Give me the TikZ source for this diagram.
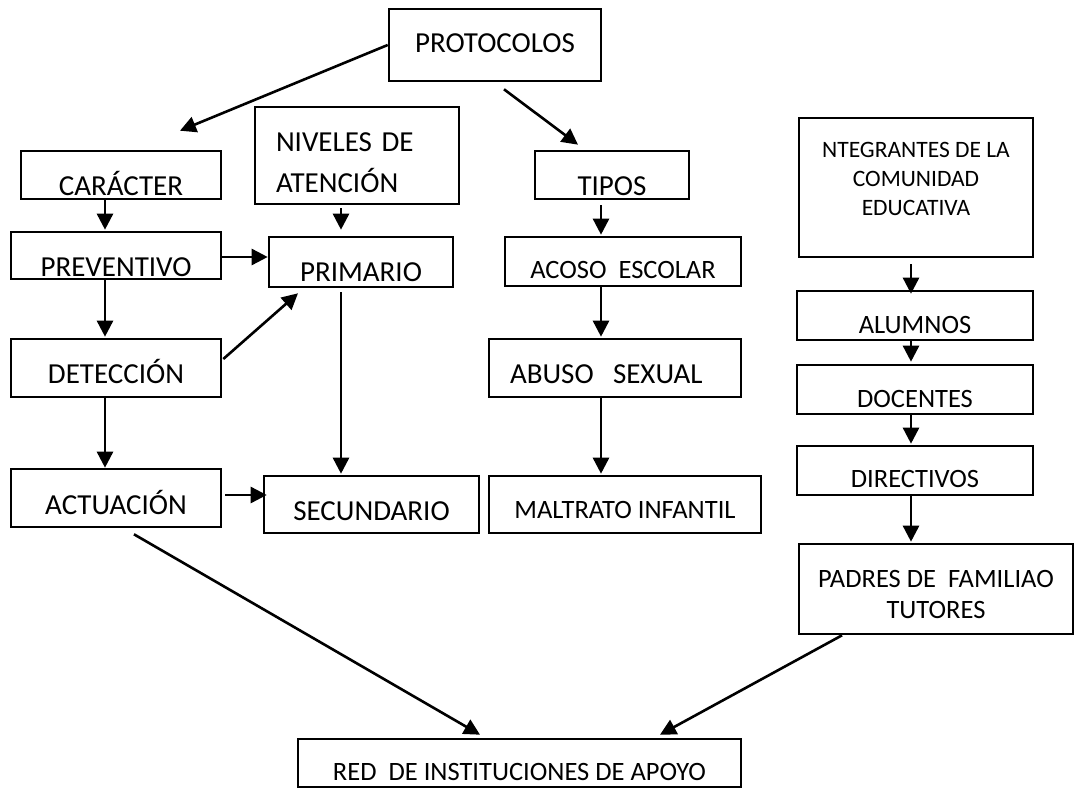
\documentclass[tikz,border=0pt]{standalone}
\usepackage{fontspec}
\setmainfont{Carlito}
\usetikzlibrary{arrows.meta,calc}
\begin{document}
\begin{tikzpicture}[x=1pt, y=-1pt, >={Triangle[length=16pt,width=16pt]},
  caja/.style={draw, line width=2.6pt, inner sep=0pt, text depth=0pt},
  grande/.style={font=\fontsize{29}{41}\selectfont},
  media/.style={font=\fontsize{26.5}{31}\selectfont},
  chica/.style={font=\fontsize{23.5}{29}\selectfont},
  flecha/.style={->, line width=2.6pt}]
  \path[use as bounding box, fill=white] (0,0) rectangle (1075,789);
  % columna izquierda
  \node[caja,grande,minimum width=212pt,minimum height=72pt,text height=16pt] (proto) at (495,45) {PROTOCOLOS};
  \node[caja,grande,minimum width=200pt,minimum height=48pt,text height=40pt] (caracter) at (121,175) {CARÁCTER};
  \node[caja,grande,minimum width=210pt,minimum height=47pt,text height=41pt] (prev) at (116,255.5) {PREVENTIVO};
  \node[caja,grande,minimum width=210pt,minimum height=58pt,text height=30pt] (detec) at (116,368) {DETECCIÓN};
  \node[caja,grande,minimum width=210pt,minimum height=58pt,text height=32pt] (actu) at (116,498) {ACTUACIÓN};
  % niveles
  \node[caja,grande,minimum width=204pt,minimum height=97pt,align=left,text width=162pt,text height=32pt,text depth=41pt] (niveles) at (357,155.5) {NIVELES DE\\ATENCIÓN};
  \node[caja,grande,minimum width=184pt,minimum height=50pt,text height=38pt] (prim) at (361,262) {PRIMARIO};
  \node[caja,grande,minimum width=215pt,minimum height=57pt,text height=31pt] (secu) at (371.5,504.5) {SECUNDARIO};
  % tipos
  \node[caja,grande,minimum width=154pt,minimum height=48pt,text height=40pt] (tipos) at (612,175) {TIPOS};
  \node[caja,media,minimum width=236pt,minimum height=49pt,text height=33pt] (acoso) at (623,261.5) {ACOSO\ \ ESCOLAR};
  \node[caja,grande,minimum width=252pt,minimum height=58pt,text height=30pt,align=left,text width=210pt] (abuso) at (615,368) {ABUSO\ \ SEXUAL};
  \node[caja,media,minimum width=272pt,minimum height=57pt,text height=27pt] (maltrato) at (625,504.5) {MALTRATO INFANTIL};
  % comunidad educativa
  \node[caja,chica,minimum width=234pt,minimum height=139pt,align=center,text height=55pt] (integ) at (916,187.5) {NTEGRANTES DE LA\\COMUNIDAD\\EDUCATIVA};
  \node[caja,media,minimum width=236pt,minimum height=49pt,text height=35pt] (alumnos) at (915,315.5) {ALUMNOS};
  \node[caja,media,minimum width=236pt,minimum height=49pt,text height=35pt] (docentes) at (915,389.5) {DOCENTES};
  \node[caja,media,minimum width=236pt,minimum height=49pt,text height=33pt] (directivos) at (915,470.5) {DIRECTIVOS};
  \node[caja,media,minimum width=274pt,minimum height=90pt,align=center,text height=58pt] (padres) at (936,589) {PADRES DE\ \ FAMILIAO\\TUTORES};
  \node[caja,media,minimum width=443pt,minimum height=48pt,text height=34pt] (red) at (519.5,763) {RED\ \ DE INSTITUCIONES DE APOYO};
  % conectores
  \draw[flecha] (proto.west) -- ($(caracter.north)+(59,-19)$);
  \draw[flecha] ($(proto.south)+(9,7)$) -- ($(tipos.north)+(-34,-5)$);
  \draw[flecha] ($(caracter.south)+(-16,0)$) -- ($(prev.north)+(-11,-1)$);
  \draw[flecha] ($(prev.east)+(0,1.5)$) -- ($(prim.west)+(0,-5)$);
  \draw[flecha] ($(prev.south)+(-11,0)$) -- ($(detec.north)+(-11,-1)$);
  \draw[flecha] ($(detec.east)+(1,-9)$) -- ($(prim.south)+(-63,5)$);
  \draw[flecha] ($(detec.south)+(-11,0)$) -- ($(actu.north)+(-11,0)$);
  \draw[flecha] ($(niveles.south)+(-16,3)$) -- ($(prim.north)+(-20,-6)$);
  \draw[flecha] ($(prim.south)+(-20,4)$) -- ($(secu.north)+(-30.5,-1)$);
  \draw[flecha] ($(actu.east)+(3,-3)$) -- ($(secu.west)+(4,-9.5)$);
  \draw[flecha] ($(tipos.south)+(-11,5)$) -- ($(acoso.north)+(-22,-1)$);
  \draw[flecha] ($(acoso.south)+(-22,0)$) -- ($(abuso.north)+(-14,-1)$);
  \draw[flecha] ($(abuso.south)+(-14,0)$) -- ($(maltrato.north)+(-24,-1)$);
  \draw[flecha] ($(integ.south)+(-5,6)$) -- ($(alumnos.north)+(-4,4)$);
  \draw[flecha] ($(alumnos.south)+(-4,-2)$) -- ($(docentes.north)+(-4,-2)$);
  \draw[flecha] ($(docentes.south)+(-4,0)$) -- ($(directivos.north)+(-4,-1)$);
  \draw[flecha] ($(directivos.south)+(-4,0)$) -- ($(padres.north)+(-25,-1)$);
  \draw[flecha] ($(actu.south)+(18,6)$) -- ($(red.north)+(-39.5,-3)$);
  \draw[flecha] ($(padres.south)+(-94,0)$) -- ($(red.north)+(140.5,-3)$);
\end{tikzpicture}
\end{document}
